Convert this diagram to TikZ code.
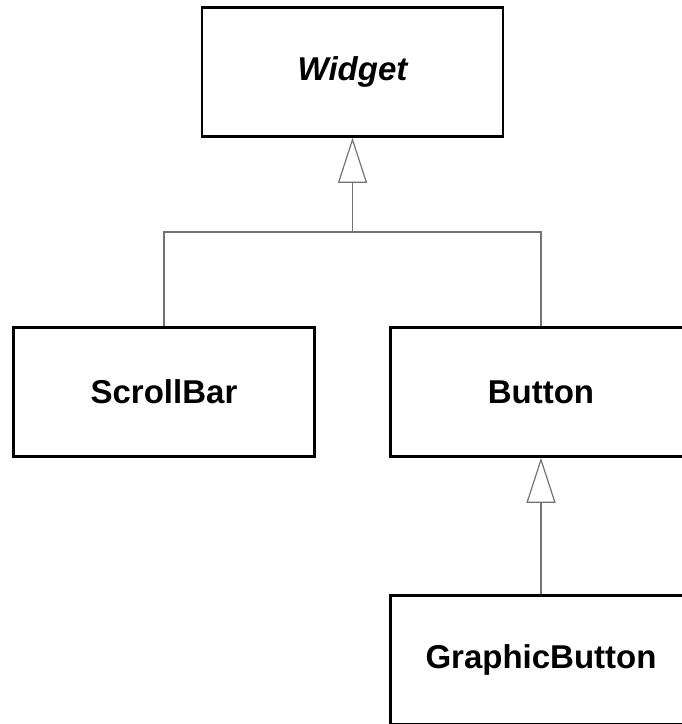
\documentclass[tikz,border=0pt]{standalone}
\usepackage{fontspec}
\setmainfont{Liberation Sans}
\usetikzlibrary{arrows.meta, positioning}

\tikzset{
  cls/.style={draw, line width=2.5pt, minimum width=301pt, minimum height=129pt,
    font=\fontsize{33pt}{36pt}\selectfont\bfseries, inner sep=0pt},
  link/.style={draw=black!55, line width=1.2pt},
  isa/.style={link, -{Triangle[open, length=45pt, width=29pt]}}
}

\begin{document}
\begin{tikzpicture}[x=1pt, y=-1pt]
  \useasboundingbox (0,0) rectangle (682,724);
  \clip (0,0) rectangle (682,724);

  \node[cls](widget) at (352.5,72){\itshape Widget};
  \node[cls](scrollbar) at (164,392){ScrollBar};
  \node[cls, right=73.5pt of scrollbar](button){Button};
  \node[cls, below=136.5pt of button](graphicbutton){GraphicButton};

  \coordinate (split) at (352.5,232);

  \draw[isa] (split) -- (widget);
  \draw[link] (scrollbar.north) |- (split) -| (button.north);
  \draw[isa] (graphicbutton) -- (button);
\end{tikzpicture}
\end{document}
